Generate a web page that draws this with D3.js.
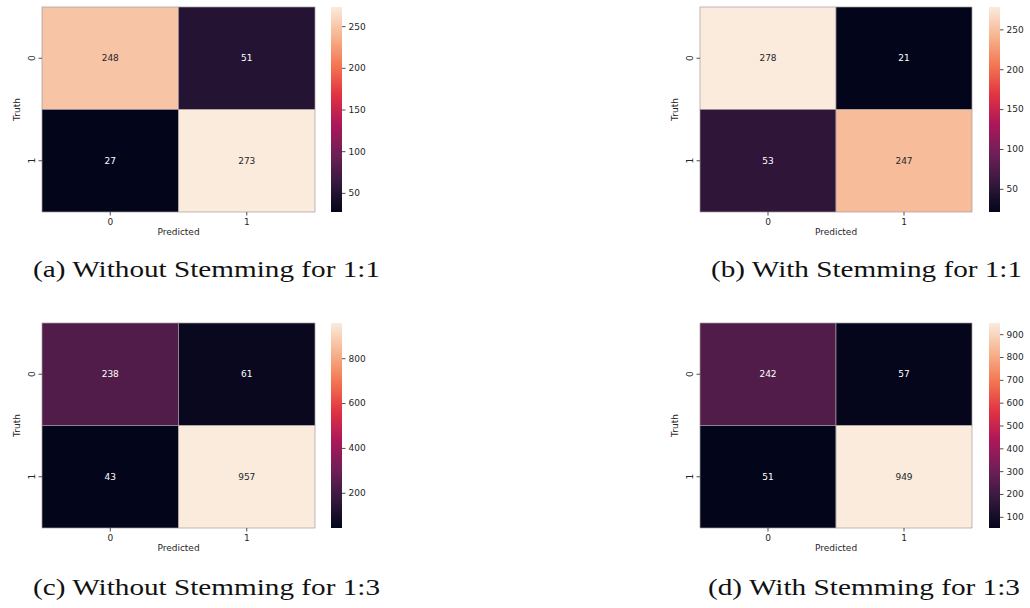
<!DOCTYPE html>
<html>
<head>
<meta charset="utf-8">
<script src="https://cdn.jsdelivr.net/npm/d3@7"></script>
<style>
  html, body { margin: 0; padding: 0; background: #fff; }
  svg { display: block; }
</style>
</head>
<body>
<svg id="chart" width="1030" height="608"></svg>
<script>
// ---------------- data ----------------
const classes = ["0", "1"];
const matrixA = [[248, 51], [27, 273]];
const matrixB = [[278, 21], [53, 247]];
const matrixC = [[238, 61], [43, 957]];
const matrixD = [[242, 57], [51, 949]];
const ticksA = [50, 100, 150, 200, 250];
const ticksB = [50, 100, 150, 200, 250];
const ticksC = [200, 400, 600, 800];
const ticksD = [100, 200, 300, 400, 500, 600, 700, 800, 900];
const captionA = "(a) Without Stemming for 1:1";
const captionB = "(b) With Stemming for 1:1";
const captionC = "(c) Without Stemming for 1:3";
const captionD = "(d) With Stemming for 1:3";
const xLabel = "Predicted";
const yLabel = "Truth";

// rocket colormap (approximate stops)
const rocketPos = [0, 1/7, 2/7, 3/7, 4/7, 5/7, 6/7, 1];
const rocketCol = ["#03051a", "#35193e", "#701f57", "#ad1759", "#e13342", "#f37651", "#f6b48f", "#faebdd"];
const rocket = d3.scaleLinear().domain(rocketPos).range(rocketCol).interpolate(d3.interpolateRgb).clamp(true);

const svg = d3.select("#chart");
const defs = svg.append("defs");
const gradId = "rocketGrad";
const grad = defs.append("linearGradient").attr("id", gradId)
  .attr("x1", 0).attr("y1", 1).attr("x2", 0).attr("y2", 0);
d3.range(0, 1.0001, 0.02).forEach(t => {
  grad.append("stop").attr("offset", t).attr("stop-color", rocket(t));
});

const FONT = "'DejaVu Sans', sans-serif";
const INK = "#262626";

function luminance(c) {
  const rgb = d3.rgb(c);
  const f = v => { v /= 255; return v <= 0.03928 ? v / 12.92 : Math.pow((v + 0.055) / 1.055, 2.4); };
  return 0.2126 * f(rgb.r) + 0.7152 * f(rgb.g) + 0.0722 * f(rgb.b);
}

function drawPanel(matrix, ticks, L) {
  const g = svg.append("g");
  const flat = matrix.flat();
  const vmin = d3.min(flat), vmax = d3.max(flat);
  const norm = d3.scaleLinear().domain([vmin, vmax]).range([0, 1]);
  const color = v => rocket(norm(v));

  const x = d3.scaleBand().domain(classes).range([L.x0, L.x1]);
  const y = d3.scaleBand().domain(classes).range([L.y0, L.y1]);

  const cells = [];
  matrix.forEach((row, i) => row.forEach((v, j) => cells.push({ r: classes[i], c: classes[j], v })));

  g.selectAll("rect.cell").data(cells).enter().append("rect")
    .attr("class", "cell")
    .attr("x", d => x(d.c)).attr("y", d => y(d.r))
    .attr("width", x.bandwidth()).attr("height", y.bandwidth())
    .attr("fill", d => color(d.v))
    .attr("stroke", "#a59aa0").attr("stroke-width", 0.7);

  g.selectAll("text.ann").data(cells).enter().append("text")
    .attr("class", "ann")
    .attr("x", d => x(d.c) + x.bandwidth() / 2)
    .attr("y", d => y(d.r) + y.bandwidth() / 2)
    .attr("text-anchor", "middle").attr("dominant-baseline", "central")
    .attr("font-family", FONT).attr("font-size", 9)
    .attr("fill", d => luminance(color(d.v)) > 0.408 ? INK : "#ffffff")
    .text(d => d.v);

  // x axis
  const xAxis = g.append("g").attr("transform", `translate(0,${L.y1})`)
    .call(d3.axisBottom(x).tickSize(3.5).tickPadding(3));
  xAxis.select(".domain").remove();
  xAxis.selectAll("line").attr("stroke", INK).attr("stroke-width", 0.8);
  xAxis.selectAll("text").attr("font-family", FONT).attr("font-size", 9).attr("fill", INK);

  // y axis
  const yAxis = g.append("g").attr("transform", `translate(${L.x0},0)`)
    .call(d3.axisLeft(y).tickSize(3.5).tickPadding(3));
  yAxis.select(".domain").remove();
  yAxis.selectAll("line").attr("stroke", INK).attr("stroke-width", 0.8);
  yAxis.selectAll("text").attr("font-family", FONT).attr("font-size", 9).attr("fill", INK)
    .attr("text-anchor", "middle").attr("dy", null)
    .attr("transform", function () {
      const tx = +d3.select(this).attr("x");
      return `translate(${tx - 4},0) rotate(-90)`;
    })
    .attr("x", 0).attr("y", 0).attr("dominant-baseline", "central");

  // axis labels
  g.append("text").attr("x", (L.x0 + L.x1) / 2).attr("y", L.y1 + 23)
    .attr("text-anchor", "middle").attr("font-family", FONT).attr("font-size", 9)
    .attr("fill", INK).text(xLabel);
  g.append("text")
    .attr("transform", `translate(${L.x0 - 25},${(L.y0 + L.y1) / 2}) rotate(-90)`)
    .attr("text-anchor", "middle").attr("dominant-baseline", "central")
    .attr("font-family", FONT).attr("font-size", 9).attr("fill", INK).text(yLabel);

  // colorbar
  const cy = d3.scaleLinear().domain([vmin, vmax]).range([L.y1, L.y0]);
  g.append("rect").attr("x", L.cbx).attr("y", L.y0)
    .attr("width", L.cbw).attr("height", L.y1 - L.y0)
    .attr("fill", `url(#${gradId})`);
  const cAxis = g.append("g").attr("transform", `translate(${L.cbx + L.cbw},0)`)
    .call(d3.axisRight(cy).tickValues(ticks).tickSize(3.5).tickPadding(3));
  cAxis.select(".domain").remove();
  cAxis.selectAll("line").attr("stroke", INK).attr("stroke-width", 0.8);
  cAxis.selectAll("text").attr("font-family", FONT).attr("font-size", 9).attr("fill", INK);

  // caption
  g.append("text").attr("x", L.capX0).attr("y", L.capY)
    .attr("font-family", "'Liberation Serif', 'Times New Roman', serif")
    .attr("font-size", 23).attr("fill", "#111")
    .attr("textLength", L.capX1 - L.capX0).attr("lengthAdjust", "spacingAndGlyphs")
    .text(L.caption);
}

drawPanel(matrixA, ticksA, { x0: 42, x1: 315, y0: 7, y1: 212, cbx: 331, cbw: 11, caption: captionA, capX0: 33, capX1: 380, capY: 277 });
drawPanel(matrixB, ticksB, { x0: 700, x1: 972, y0: 7, y1: 212, cbx: 989, cbw: 11, caption: captionB, capX0: 711, capX1: 1022, capY: 277 });
drawPanel(matrixC, ticksC, { x0: 42, x1: 315, y0: 323, y1: 528, cbx: 331, cbw: 11, caption: captionC, capX0: 33, capX1: 380, capY: 595 });
drawPanel(matrixD, ticksD, { x0: 700, x1: 972, y0: 323, y1: 528, cbx: 989, cbw: 11, caption: captionD, capX0: 708, capX1: 1020, capY: 595 });
</script>
</body>
</html>
